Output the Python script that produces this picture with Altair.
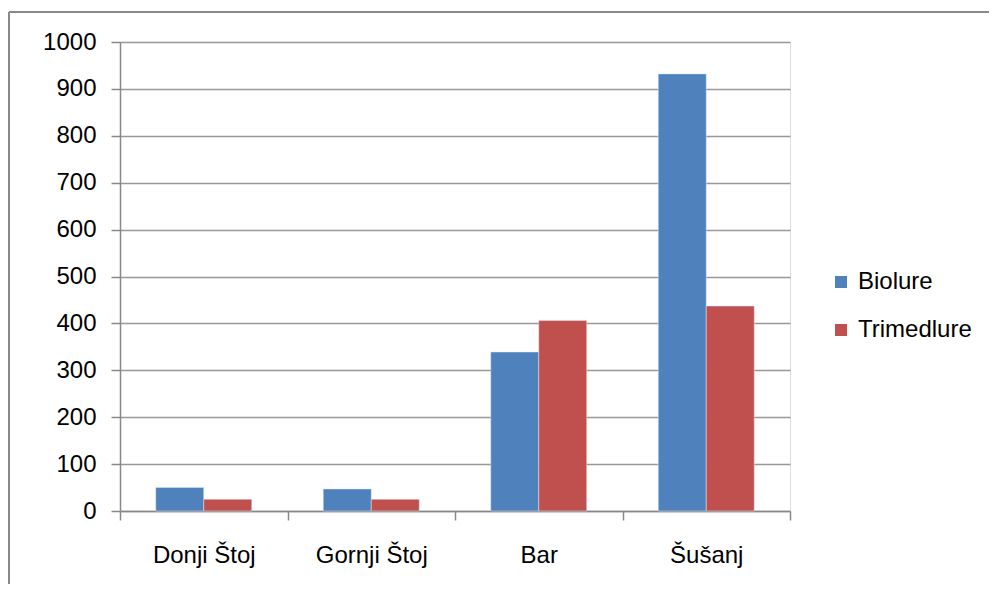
import altair as alt
import pandas as pd

locations = ["Donji Štoj", "Gornji Štoj", "Bar", "Šušanj"]
biolure = [50, 47, 339, 932]
trimedlure = [25, 25, 406, 437]
series = ["Biolure", "Trimedlure"]
y_ticks = [0, 100, 200, 300, 400, 500, 600, 700, 800, 900, 1000]

rows = []
for i, loc in enumerate(locations):
    rows.append({"loc": loc, "series": series[0], "value": biolure[i]})
    rows.append({"loc": loc, "series": series[1], "value": trimedlure[i]})
df = pd.DataFrame(rows)

FONT = "Liberation Sans"
W, H = 670, 469

bars = alt.Chart(df).mark_bar(stroke="#dfe8f5", strokeWidth=1, strokeOpacity=0.5).encode(
    x=alt.X("loc:N", sort=locations, title=None,
            scale=alt.Scale(paddingInner=0, paddingOuter=0),
            axis=alt.Axis(labelAngle=0, labelFont=FONT, labelFontSize=24, labelColor="#000",
                          tickBand="extent", tickSize=9, tickColor="#888", tickWidth=1.5,
                          domainColor="#888", domainWidth=1.5, labelPadding=23, grid=False)),
    xOffset=alt.XOffset("series:N", sort=series,
                        scale=alt.Scale(paddingInner=0, paddingOuter=0.745)),
    y=alt.Y("value:Q", title=None,
            scale=alt.Scale(domain=[0, 1000], nice=False),
            axis=alt.Axis(values=y_ticks, format="d", labelFont=FONT, labelFontSize=24,
                          labelColor="#000", tickSize=9, tickColor="#888", tickWidth=1.5,
                          domainColor="#888", domainWidth=1.5, labelPadding=15,
                          gridColor="#999", gridWidth=1.5)),
    color=alt.Color("series:N", sort=series,
                    scale=alt.Scale(domain=series, range=["#4F81BD", "#C0504D"]),
                    legend=alt.Legend(title=None, orient="none", legendX=709, legendY=228,
                                      symbolType="square", symbolSize=144, symbolStrokeWidth=0,
                                      labelFont=FONT, labelFontSize=24, labelColor="#000",
                                      rowPadding=24, labelOffset=5, padding=0)),
)

frame_df = pd.DataFrame({"k": [0]})
left_border = alt.Chart(frame_df).mark_rule(color="#888", strokeWidth=2).encode(
    x=alt.value(-111), y=alt.value(-30), y2=alt.value(H + 90))
top_border = alt.Chart(frame_df).mark_rule(color="#888", strokeWidth=2).encode(
    x=alt.value(-111), x2=alt.value(W + 250), y=alt.value(-30))

chart = alt.layer(bars, left_border, top_border).properties(
    width=W, height=H,
    autosize=alt.AutoSizeParams(type="none"),
    padding={"left": 112, "top": 34, "right": 199, "bottom": 73},
).configure_view(stroke=None).configure(background="white")

chart.save("out.html", embed_options={"renderer": "svg", "actions": False})
